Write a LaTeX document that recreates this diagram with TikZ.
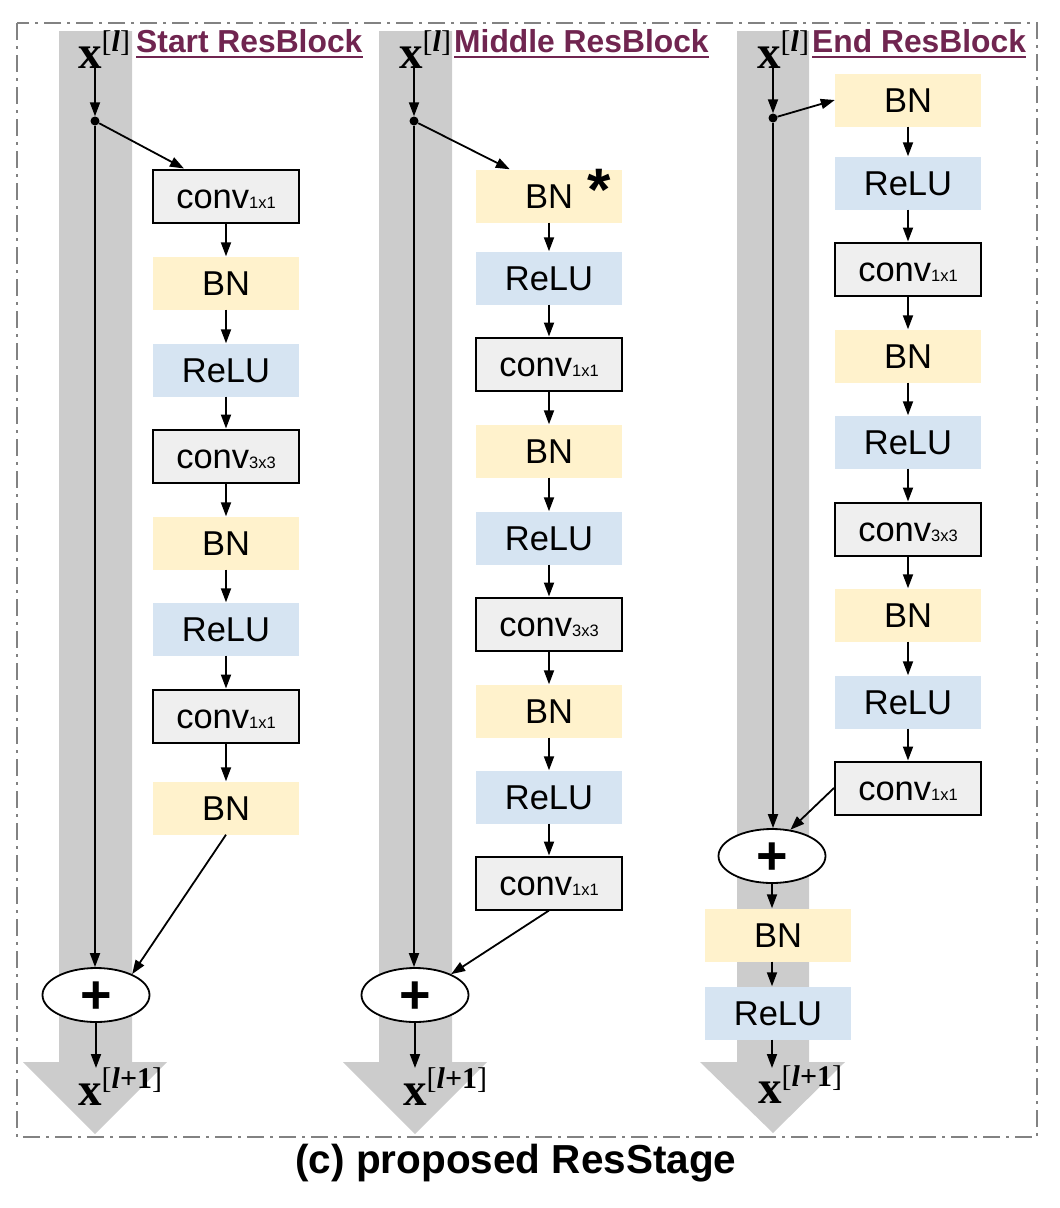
\documentclass[tikz,border=0pt]{standalone}
\usepackage{fontspec}
\setmainfont{Liberation Sans}
\newfontfamily\serifx{Liberation Serif}
\usetikzlibrary{arrows.meta,shapes.geometric}
\definecolor{bnfill}{RGB}{255,242,204}
\definecolor{relufill}{RGB}{214,228,242}
\definecolor{convfill}{RGB}{239,239,239}
\definecolor{bandgray}{RGB}{204,204,204}
\definecolor{hdrcol}{RGB}{112,37,80}
\definecolor{framecol}{RGB}{130,130,130}
\newcommand{\cv}[1]{conv{\fontsize{16.5}{16.5}\selectfont #1}}
\newcommand{\xlab}[1]{{\bfseries x}\raisebox{17pt}{\fontsize{30}{30}\selectfont #1}}
\tikzset{
  blk/.style={minimum width=146pt, minimum height=53pt, inner sep=0pt, text height=24pt, text depth=0pt, font=\fontsize{34.5}{36}\selectfont},
  bnbox/.style={blk, fill=bnfill},
  relubox/.style={blk, fill=relufill},
  convbox/.style={blk, fill=convfill, draw=black, line width=2pt},
  arr/.style={-{Triangle[length=14pt,width=10pt]}, line width=1.8pt},
  plusnode/.style={ellipse, draw=black, fill=white, line width=1.8pt, minimum width=107pt, minimum height=54pt, inner sep=0pt, text height=37pt, text depth=0pt, font=\fontsize{54}{54}\selectfont\bfseries},
  dotnode/.style={circle, fill=black, inner sep=0pt, minimum size=9pt},
  xlabsty/.style={anchor=base west, inner sep=0pt, font=\serifx\fontsize{47}{47}\selectfont},
  hdrsty/.style={anchor=base west, inner sep=0pt, text=hdrcol, font=\fontsize{31.8}{31.8}\selectfont\bfseries},
  ulin/.style={draw=hdrcol, line width=2.5pt},
  framesty/.style={draw=framecol, line width=1.5pt, dash pattern=on 17pt off 6pt on 3pt off 6pt},
}
\begin{document}
\begin{tikzpicture}[x=1pt,y=-1pt]
\useasboundingbox (0,0) rectangle (1060,1208);
% frame
\draw[framesty] (17,23) rectangle (1037,1137);
% gray bands
\fill[bandgray] (59,31) -- (132,31) -- (132,1062) -- (167,1062) -- (95,1134) -- (23,1062) -- (59,1062) -- cycle;
\fill[bandgray] (379,31) -- (452,31) -- (452,1062) -- (487,1062) -- (415,1134) -- (343,1062) -- (379,1062) -- cycle;
\fill[bandgray] (737,31) -- (809,31) -- (809,1062) -- (845,1062) -- (773,1133) -- (700,1062) -- (737,1062) -- cycle;
% headers
\node[xlabsty] (xi1) at (78,68) {\xlab{[\textbf{\textit{l}}]}};
\node[xlabsty] (xi2) at (399,68) {\xlab{[\textbf{\textit{l}}]}};
\node[xlabsty] (xi3) at (757,68) {\xlab{[\textbf{\textit{l}}]}};
\node[hdrsty] (h1) at (136,52) {Start ResBlock};
\node[hdrsty] (h2) at (454,52) {Middle ResBlock};
\node[hdrsty] (h3) at (812,52) {End ResBlock};
\foreach \h in {h1,h2,h3}{\draw[ulin] ([yshift=-5pt]\h.base west) -- ([yshift=-5pt]\h.base east);}
% ---------- column 1 ----------
\node[dotnode] (d1) at (95,121) {};
\node[convbox] (a1) at (226,196) {\cv{1x1}};
\node[bnbox]   (a2) at (226,283) {BN};
\node[relubox] (a3) at (226,370) {ReLU};
\node[convbox] (a4) at (226,456) {\cv{3x3}};
\node[bnbox]   (a5) at (226,543) {BN};
\node[relubox] (a6) at (226,629) {ReLU};
\node[convbox] (a7) at (226,716) {\cv{1x1}};
\node[bnbox]   (a8) at (226,808) {BN};
\node[plusnode] (p1) at (96,995) {+};
\coordinate (o1) at (96,1068);
\node[xlabsty] (xo1) at (78,1105) {\xlab{[\textbf{\textit{l}+1}]}};
\draw[arr] (xi1.south -| d1) -- (d1);
\draw[arr] (d1) -- ([xshift=32pt]a1.north west);
\foreach \u/\v in {a1/a2,a2/a3,a3/a4,a4/a5,a5/a6,a6/a7,a7/a8}{\draw[arr] (\u.south) -- (\v.north);}
\draw[arr] (d1) -- (d1 |- p1.north);
\draw[arr] (a8.south) -- (p1.30);
\draw[arr] (p1.south) -- (o1);
% ---------- column 2 ----------
\node[dotnode] (d2) at (414,121) {};
\node[bnbox]   (m1) at (549,196) {BN};
\node[anchor=base, inner sep=0pt, font=\fontsize{60}{60}\selectfont\bfseries] (ast) at (599,210) {*};
\node[relubox] (m2) at (549,278) {ReLU};
\node[convbox] (m3) at (549,364) {\cv{1x1}};
\node[bnbox]   (m4) at (549,451) {BN};
\node[relubox] (m5) at (549,538) {ReLU};
\node[convbox] (m6) at (549,624) {\cv{3x3}};
\node[bnbox]   (m7) at (549,711) {BN};
\node[relubox] (m8) at (549,797) {ReLU};
\node[convbox] (m9) at (549,883) {\cv{1x1}};
\node[plusnode] (p2) at (415,995) {+};
\coordinate (o2) at (415,1068);
\node[xlabsty] (xo2) at (403,1105) {\xlab{[\textbf{\textit{l}+1}]}};
\draw[arr] (xi2.south -| d2) -- (d2);
\draw[arr] (d2) -- ([xshift=34pt]m1.north west);
\foreach \u/\v in {m1/m2,m2/m3,m3/m4,m4/m5,m5/m6,m6/m7,m7/m8,m8/m9}{\draw[arr] (\u.south) -- (\v.north);}
\draw[arr] (d2) -- (d2 |- p2.north);
\draw[arr] (m9.south) -- (p2.30);
\draw[arr] (p2.south) -- (o2);
% ---------- column 3 ----------
\node[dotnode] (d3) at (773,118) {};
\node[bnbox]   (e1) at (908,100) {BN};
\node[relubox] (e2) at (908,183) {ReLU};
\node[convbox] (e3) at (908,269) {\cv{1x1}};
\node[bnbox]   (e4) at (908,356) {BN};
\node[relubox] (e5) at (908,442) {ReLU};
\node[convbox] (e6) at (908,529) {\cv{3x3}};
\node[bnbox]   (e7) at (908,615) {BN};
\node[relubox] (e8) at (908,702) {ReLU};
\node[convbox] (e9) at (908,788) {\cv{1x1}};
\node[plusnode] (p3) at (772,856) {+};
\node[bnbox]   (f1) at (778,935) {BN};
\node[relubox] (f2) at (778,1013) {ReLU};
\coordinate (o3) at (772,1068);
\node[xlabsty] (xo3) at (758,1103) {\xlab{[\textbf{\textit{l}+1}]}};
\draw[arr] (xi3.south -| d3) -- (d3);
\draw[arr] (d3) -- (e1.west);
\foreach \u/\v in {e1/e2,e2/e3,e3/e4,e4/e5,e5/e6,e6/e7,e7/e8,e8/e9}{\draw[arr] (\u.south) -- (\v.north);}
\draw[arr] (d3) -- (d3 |- p3.north);
\draw[arr] (e9.west) -- (p3.55);
\draw[arr] (p3.south) -- (p3.south |- f1.north);
\draw[arr] (f1.south -| p3) -- (f2.north -| p3);
\draw[arr] (f2.south -| p3) -- (o3);
% caption
\node[anchor=base, inner sep=0pt, font=\fontsize{40.5}{40.5}\selectfont\bfseries] (cap) at (516,1173) {(c) proposed ResStage};
\end{tikzpicture}
\end{document}
